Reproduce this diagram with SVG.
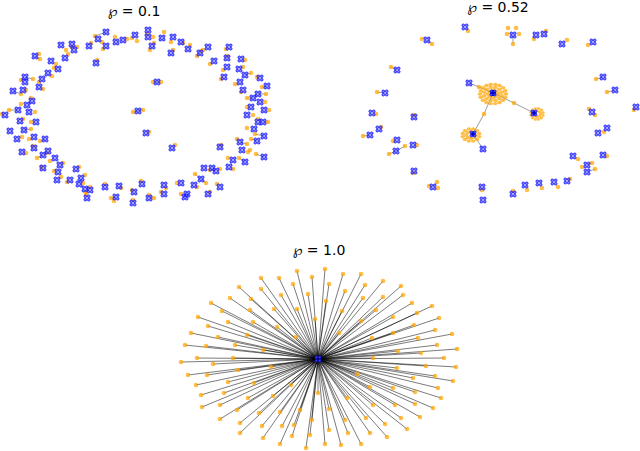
<svg xmlns="http://www.w3.org/2000/svg" xmlns:xlink="http://www.w3.org/1999/xlink" width="640" height="451" viewBox="0 0 640 451">
<style>
.t{font-family:"DejaVu Sans","Liberation Sans",sans-serif;font-size:14px;fill:#000;text-anchor:middle}
.o{fill:#ffa500;fill-opacity:.72}
.bm circle{fill:#5a5aff;stroke:#0000ff;stroke-width:.7;fill-opacity:.75}
.e{stroke:#333;stroke-opacity:.6;stroke-width:.8;fill:none}
.s{stroke:#000;stroke-opacity:.58;stroke-width:.9;fill:none}
.hc{fill:#00008b}
</style>
<defs>
<g id="bm" class="bm"><circle cx="-1.7" cy="-1.7" r="1.35"/><circle cx="1.7" cy="-1.7" r="1.35"/><circle cx="-1.7" cy="1.7" r="1.35"/><circle cx="1.7" cy="1.7" r="1.35"/></g>
<g id="r13" class="o"><circle cx="13" cy="0" r="2.3"/><circle cx="12.2" cy="4.4" r="2.3"/><circle cx="10" cy="8.4" r="2.3"/><circle cx="6.5" cy="11.3" r="2.3"/><circle cx="2.3" cy="12.8" r="2.3"/><circle cx="-2.3" cy="12.8" r="2.3"/><circle cx="-6.5" cy="11.3" r="2.3"/><circle cx="-10" cy="8.4" r="2.3"/><circle cx="-12.2" cy="4.4" r="2.3"/><circle cx="-13" cy="0" r="2.3"/><circle cx="-12.2" cy="-4.4" r="2.3"/><circle cx="-10" cy="-8.4" r="2.3"/><circle cx="-6.5" cy="-11.3" r="2.3"/><circle cx="-2.3" cy="-12.8" r="2.3"/><circle cx="2.3" cy="-12.8" r="2.3"/><circle cx="6.5" cy="-11.3" r="2.3"/><circle cx="10" cy="-8.4" r="2.3"/><circle cx="12.2" cy="-4.4" r="2.3"/></g>
<g id="r9" class="o"><circle cx="8.7" cy="2.3" r="2.3"/><circle cx="6.4" cy="6.4" r="2.3"/><circle cx="2.3" cy="8.7" r="2.3"/><circle cx="-2.3" cy="8.7" r="2.3"/><circle cx="-6.4" cy="6.4" r="2.3"/><circle cx="-8.7" cy="2.3" r="2.3"/><circle cx="-8.7" cy="-2.3" r="2.3"/><circle cx="-6.4" cy="-6.4" r="2.3"/><circle cx="-2.3" cy="-8.7" r="2.3"/><circle cx="2.3" cy="-8.7" r="2.3"/><circle cx="6.4" cy="-6.4" r="2.3"/><circle cx="8.7" cy="-2.3" r="2.3"/></g>
<g id="r5" class="o"><circle cx="5" cy="0" r="2.3"/><circle cx="3.5" cy="3.5" r="2.3"/><circle cx="0" cy="5" r="2.3"/><circle cx="-3.5" cy="3.5" r="2.3"/><circle cx="-5" cy="0" r="2.3"/><circle cx="-3.5" cy="-3.5" r="2.3"/><circle cx="0" cy="-5" r="2.3"/><circle cx="3.5" cy="-3.5" r="2.3"/></g>
</defs>
<rect width="640" height="451" fill="#fff"/>
<text class="t" x="134" y="16">℘ = 0.1</text>
<text class="t" x="498" y="12">℘ = 0.52</text>
<text class="t" x="319" y="255">℘ = 1.0</text>

<g id="connectors">
<g id="edges-left" class="e">
<path d="M106 32L95 36M25 77L33 79M18 110L9 110M13 91L21 94M43 155L37 158M200 53L197 56M258 94L266 94M253 98L247 98M263 122L268 122M264 136L255 134M257 141L251 139M240 142L247 144M264 157L256 154M201 179L195 174M201 179L206 183M245 162L239 158M35 56L40 59M138 111L133 112M138 111L143 110M157 82L161 82M157 82L153 82M24 130L31 129M45 139L40 141M245 75L251 73M267 86L262 87M116 197L111 198M149 198L154 198"/>
</g>
<g id="edges-mid" class="e">
<path d="M469 83L479 87L493 93M493 93L514 103L534 113M493 93L484 114L473 134M473 134L483 149M513 35L513 44M396 151L405 146M396 151L389 154M427 40L432 44M370 135L363 136M385 93L377 92M397 70L391 67M433 187L437 182M587 165L592 163M587 172L595 169M603 77L596 79M615 90L607 92"/>
</g>
<g id="edges-full" class="s">
<path d="M318 359L297 271M318 359L312 277M318 359L261 278M318 359L279 278M318 359L293 284M318 359L239 287M318 359L261 289M318 359L308 294M318 359L281 295M318 359L230 298M318 359L251 299M318 359L211 303M318 359L297 309M318 359L274 309M318 359L250 310M318 359L222 311M318 359L315 319M318 359L198 317M318 359L228 322M318 359L253 322M318 359L277 327M318 359L208 326M318 359L191 333M318 359L247 335M318 359L218 337M318 359L296 337M318 359L185 345M318 359L206 346M318 359L235 345M318 359L263 350M318 359L197 358M318 359L233 358M318 359L181 362M318 359L213 364M318 359L271 367M318 359L238 370M318 359L188 375M318 359L207 375M318 359L228 382M318 359L254 383M318 359L291 385M318 359L196 385M318 359L201 395M318 359L224 393M318 359L318 393M318 359L248 398M318 359L273 396M318 359L220 405M318 359L202 407M318 359L300 410M318 359L237 410M318 359L280 412M318 359L259 413M318 359L220 419M318 359L312 420M318 359L240 423M318 359L262 426M318 359L282 426M318 359L294 425M318 359L240 433M318 359L310 435M318 359L263 438M318 359L292 436M318 359L280 444M318 359L306 448"/>
<path d="M318 359L325 269M318 359L343 274M318 359L361 274M318 359L329 284M318 359L365 285M318 359L383 281M318 359L401 286M318 359L345 291M318 359L363 298M318 359L383 297M318 359L403 295M318 359L326 301M318 359L342 311M318 359L376 310M318 359L412 303M318 359L432 306M318 359L417 313M318 359L361 321M318 359L393 317M318 359L439 318M318 359L339 333M318 359L393 333M318 359L414 325M318 359L435 330M318 359L452 334M318 359L372 338M318 359L418 338M318 359L437 345M318 359L457 349M318 359L398 351M318 359L421 353M318 359L373 358M318 359L444 358M318 359L426 366M318 359L456 367M318 359L397 368M318 359L357 374M318 359L435 376M318 359L413 378M318 359L453 381M318 359L370 387M318 359L393 388M318 359L438 388M318 359L415 392M318 359L441 398M318 359L347 398M318 359L373 405M318 359L395 405M318 359L415 404M318 359L433 408M318 359L329 409M318 359L366 418M318 359L401 418M318 359L420 417M318 359L345 420M318 359L385 424M318 359L407 429M318 359L329 430M318 359L348 433M318 359L370 433M318 359L387 437M318 359L361 444M318 359L341 445M318 359L325 444"/>
</g>
</g>

<g id="graph-left">
<g id="L1"><circle class="o" cx="95" cy="36" r="2.3"/><use href="#bm" x="106" y="32"/></g>
<g id="L2"><circle class="o" cx="102" cy="42" r="2.3"/><use href="#bm" x="98" y="39"/></g>
<g id="L3"><circle class="o" cx="103" cy="49" r="2.3"/><use href="#bm" x="106" y="46"/></g>
<g id="L4"><circle class="o" cx="115" cy="37" r="2.3"/><use href="#bm" x="116" y="42"/></g>
<g id="L5"><circle class="o" cx="127" cy="39" r="2.3"/><use href="#bm" x="123" y="40"/></g>
<g id="L6"><circle class="o" cx="132" cy="38" r="2.3"/><circle class="o" cx="137" cy="41" r="2.3"/><use href="#bm" x="135" y="35"/></g>
<g id="L7"><circle class="o" cx="147" cy="34" r="2.3"/><circle class="o" cx="153" cy="37" r="2.3"/><use href="#bm" x="148" y="30"/><use href="#bm" x="148" y="37"/></g>
<g id="L8"><circle class="o" cx="154" cy="43" r="2.3"/><circle class="o" cx="150" cy="50" r="2.3"/><use href="#bm" x="152" y="46"/></g>
<g id="L9"><circle class="o" cx="153" cy="82" r="2.3"/><circle class="o" cx="161" cy="82" r="2.3"/><use href="#bm" x="157" y="82"/></g>
<g id="L10"><circle class="o" cx="66" cy="50" r="2.3"/><use href="#bm" x="61" y="45"/></g>
<g id="L11"><circle class="o" cx="72" cy="47" r="2.3"/><circle class="o" cx="77" cy="47" r="2.3"/><use href="#bm" x="72" y="44"/><use href="#bm" x="74" y="50"/></g>
<g id="L12"><circle class="o" cx="91" cy="43" r="2.3"/><use href="#bm" x="89" y="46"/></g>
<g id="L13"><circle class="o" cx="68" cy="54" r="2.3"/><use href="#bm" x="65" y="58"/></g>
<g id="L14"><circle class="o" cx="39" cy="54" r="2.3"/><circle class="o" cx="40" cy="59" r="2.3"/><use href="#bm" x="35" y="56"/></g>
<g id="L15"><circle class="o" cx="56" cy="64" r="2.3"/><use href="#bm" x="51" y="61"/></g>
<g id="L16"><circle class="o" cx="54" cy="68" r="2.3"/><use href="#bm" x="58" y="69"/></g>
<g id="L17"><circle class="o" cx="52" cy="76" r="2.3"/><use href="#bm" x="48" y="73"/></g>
<g id="L18"><circle class="o" cx="33" cy="79" r="2.3"/><circle class="o" cx="21" cy="80" r="2.3"/><use href="#bm" x="25" y="77"/><use href="#bm" x="25" y="82"/></g>
<g id="L19"><circle class="o" cx="39" cy="82" r="2.3"/><use href="#bm" x="42" y="79"/></g>
<g id="L20"><circle class="o" cx="97" cy="60" r="2.3"/><use href="#bm" x="96" y="63"/></g>
<g id="L21"><circle class="o" cx="43" cy="89" r="2.3"/><use href="#bm" x="39" y="87"/></g>
<g id="L22"><circle class="o" cx="21" cy="94" r="2.3"/><circle class="o" cx="26" cy="90" r="2.3"/><use href="#bm" x="13" y="91"/><use href="#bm" x="23" y="90"/></g>
<g id="L23"><circle class="o" cx="31" cy="98" r="2.3"/><use href="#bm" x="32" y="101"/></g>
<g id="L24"><circle class="o" cx="21" cy="104" r="2.3"/><use href="#bm" x="27" y="105"/></g>
<g id="L25"><circle class="o" cx="9" cy="110" r="2.3"/><use href="#bm" x="18" y="110"/></g>
<g id="L26"><circle class="o" cx="2" cy="114" r="2.3"/><use href="#bm" x="5" y="115"/></g>
<g id="L27"><circle class="o" cx="35" cy="112" r="2.3"/><use href="#bm" x="29" y="112"/></g>
<g id="L28"><circle class="o" cx="23" cy="119" r="2.3"/><use href="#bm" x="20" y="121"/></g>
<g id="L29"><circle class="o" cx="31" cy="122" r="2.3"/><use href="#bm" x="36" y="122"/></g>
<g id="L30"><use href="#bm" x="10" y="131"/></g>
<g id="L31"><circle class="o" cx="31" cy="129" r="2.3"/><use href="#bm" x="24" y="130"/></g>
<g id="L32"><circle class="o" cx="22" cy="137" r="2.3"/><use href="#bm" x="17" y="139"/></g>
<g id="L33"><circle class="o" cx="29" cy="139" r="2.3"/><use href="#bm" x="34" y="137"/></g>
<g id="L34"><circle class="o" cx="40" cy="141" r="2.3"/><use href="#bm" x="45" y="139"/></g>
<g id="L35"><circle class="o" cx="33" cy="146" r="2.3"/><use href="#bm" x="34" y="148"/></g>
<g id="L36"><circle class="o" cx="26" cy="153" r="2.3"/><use href="#bm" x="22" y="152"/></g>
<g id="L37"><circle class="o" cx="37" cy="158" r="2.3"/><circle class="o" cx="47" cy="153" r="2.3"/><use href="#bm" x="43" y="155"/><use href="#bm" x="48" y="151"/></g>
<g id="L38"><circle class="o" cx="50" cy="161" r="2.3"/><use href="#bm" x="55" y="158"/></g>
<g id="L39"><circle class="o" cx="63" cy="163" r="2.3"/><use href="#bm" x="60" y="165"/></g>
<g id="L40"><circle class="o" cx="41" cy="167" r="2.3"/><use href="#bm" x="43" y="168"/></g>
<g id="L41"><circle class="o" cx="54" cy="171" r="2.3"/><use href="#bm" x="58" y="172"/></g>
<g id="L42"><circle class="o" cx="79" cy="167" r="2.3"/><use href="#bm" x="76" y="169"/></g>
<g id="L43"><circle class="o" cx="61" cy="177" r="2.3"/><use href="#bm" x="57" y="180"/></g>
<g id="L44"><circle class="o" cx="67" cy="182" r="2.3"/><use href="#bm" x="70" y="180"/></g>
<g id="L45"><circle class="o" cx="85" cy="175" r="2.3"/><circle class="o" cx="83" cy="183" r="2.3"/><use href="#bm" x="81" y="178"/></g>
<g id="L46"><circle class="o" cx="90" cy="187" r="2.3"/><circle class="o" cx="86" cy="192" r="2.3"/><use href="#bm" x="79" y="184"/><use href="#bm" x="85" y="189"/><use href="#bm" x="90" y="190"/></g>
<g id="L47"><circle class="o" cx="86" cy="194" r="2.3"/><use href="#bm" x="87" y="198"/></g>
<g id="L48"><circle class="o" cx="105" cy="184" r="2.3"/><use href="#bm" x="105" y="187"/></g>
<g id="L49"><circle class="o" cx="121" cy="188" r="2.3"/><use href="#bm" x="119" y="186"/></g>
<g id="L50"><circle class="o" cx="111" cy="198" r="2.3"/><circle class="o" cx="114" cy="201" r="2.3"/><use href="#bm" x="116" y="197"/></g>
<g id="L51"><circle class="o" cx="132" cy="190" r="2.3"/><use href="#bm" x="134" y="192"/></g>
<g id="L52"><circle class="o" cx="141" cy="181" r="2.3"/><use href="#bm" x="142" y="184"/></g>
<g id="L53"><circle class="o" cx="133" cy="200" r="2.3"/><use href="#bm" x="133" y="203"/></g>
<g id="L54"><circle class="o" cx="149" cy="195" r="2.3"/><circle class="o" cx="154" cy="198" r="2.3"/><use href="#bm" x="149" y="198"/></g>
<g id="L55"><circle class="o" cx="133" cy="112" r="2.3"/><circle class="o" cx="143" cy="110" r="2.3"/><use href="#bm" x="138" y="111"/></g>
<g id="L56"><circle class="o" cx="149" cy="132" r="2.3"/><use href="#bm" x="146" y="133"/></g>
<g id="L57"><circle class="o" cx="164" cy="32" r="2.3"/><use href="#bm" x="162" y="38"/></g>
<g id="L58"><circle class="o" cx="171" cy="42" r="2.3"/><use href="#bm" x="173" y="37"/></g>
<g id="L59"><circle class="o" cx="183" cy="43" r="2.3"/><use href="#bm" x="181" y="42"/></g>
<g id="L60"><circle class="o" cx="190" cy="45" r="2.3"/><use href="#bm" x="188" y="49"/></g>
<g id="L61"><circle class="o" cx="173" cy="50" r="2.3"/><use href="#bm" x="171" y="53"/></g>
<g id="L62"><circle class="o" cx="201" cy="51" r="2.3"/><circle class="o" cx="197" cy="56" r="2.3"/><circle class="o" cx="203" cy="50" r="2.3"/><use href="#bm" x="200" y="53"/><use href="#bm" x="208" y="47"/></g>
<g id="L63"><circle class="o" cx="226" cy="49" r="2.3"/><use href="#bm" x="229" y="47"/></g>
<g id="L64"><circle class="o" cx="210" cy="64" r="2.3"/><use href="#bm" x="214" y="61"/></g>
<g id="L65"><circle class="o" cx="227" cy="56" r="2.3"/><use href="#bm" x="227" y="58"/></g>
<g id="L66"><circle class="o" cx="245" cy="60" r="2.3"/><use href="#bm" x="241" y="59"/></g>
<g id="L67"><circle class="o" cx="223" cy="70" r="2.3"/><use href="#bm" x="227" y="67"/></g>
<g id="L68"><circle class="o" cx="243" cy="67" r="2.3"/><use href="#bm" x="239" y="69"/></g>
<g id="L69"><circle class="o" cx="221" cy="79" r="2.3"/><use href="#bm" x="224" y="77"/></g>
<g id="L70"><circle class="o" cx="251" cy="73" r="2.3"/><use href="#bm" x="245" y="75"/></g>
<g id="L71"><circle class="o" cx="257" cy="77" r="2.3"/><use href="#bm" x="260" y="78"/></g>
<g id="L72"><circle class="o" cx="235" cy="84" r="2.3"/><use href="#bm" x="240" y="82"/></g>
<g id="L73"><circle class="o" cx="262" cy="87" r="2.3"/><use href="#bm" x="267" y="86"/></g>
<g id="L74"><circle class="o" cx="241" cy="92" r="2.3"/><use href="#bm" x="243" y="90"/></g>
<g id="L75"><circle class="o" cx="266" cy="94" r="2.3"/><circle class="o" cx="247" cy="98" r="2.3"/><use href="#bm" x="258" y="94"/><use href="#bm" x="253" y="98"/></g>
<g id="L76"><circle class="o" cx="265" cy="102" r="2.3"/><use href="#bm" x="260" y="102"/></g>
<g id="L77"><circle class="o" cx="247" cy="107" r="2.3"/><use href="#bm" x="251" y="107"/></g>
<g id="L78"><circle class="o" cx="269" cy="110" r="2.3"/><use href="#bm" x="264" y="110"/></g>
<g id="L79"><circle class="o" cx="253" cy="115" r="2.3"/><use href="#bm" x="247" y="115"/></g>
<g id="L80"><circle class="o" cx="258" cy="119" r="2.3"/><circle class="o" cx="268" cy="122" r="2.3"/><use href="#bm" x="258" y="122"/><use href="#bm" x="263" y="122"/></g>
<g id="L81"><circle class="o" cx="247" cy="128" r="2.3"/><use href="#bm" x="254" y="129"/></g>
<g id="L82"><circle class="o" cx="255" cy="134" r="2.3"/><use href="#bm" x="264" y="136"/></g>
<g id="L83"><circle class="o" cx="251" cy="139" r="2.3"/><use href="#bm" x="257" y="141"/></g>
<g id="L84"><circle class="o" cx="237" cy="139" r="2.3"/><circle class="o" cx="247" cy="144" r="2.3"/><use href="#bm" x="240" y="142"/></g>
<g id="L85"><circle class="o" cx="248" cy="152" r="2.3"/><circle class="o" cx="250" cy="150" r="2.3"/><use href="#bm" x="242" y="150"/></g>
<g id="L86"><circle class="o" cx="256" cy="154" r="2.3"/><use href="#bm" x="264" y="157"/></g>
<g id="L87"><circle class="o" cx="239" cy="158" r="2.3"/><use href="#bm" x="245" y="162"/></g>
<g id="L88"><circle class="o" cx="228" cy="158" r="2.3"/><use href="#bm" x="233" y="160"/></g>
<g id="L89"><circle class="o" cx="233" cy="169" r="2.3"/><use href="#bm" x="229" y="167"/></g>
<g id="L90"><circle class="o" cx="221" cy="145" r="2.3"/><use href="#bm" x="220" y="147"/></g>
<g id="L91"><circle class="o" cx="220" cy="169" r="2.3"/><circle class="o" cx="210" cy="170" r="2.3"/><use href="#bm" x="204" y="168"/><use href="#bm" x="212" y="168"/><use href="#bm" x="216" y="171"/></g>
<g id="L92"><circle class="o" cx="195" cy="174" r="2.3"/><circle class="o" cx="206" cy="183" r="2.3"/><use href="#bm" x="201" y="179"/></g>
<g id="L93"><circle class="o" cx="197" cy="187" r="2.3"/><use href="#bm" x="194" y="185"/></g>
<g id="L94"><circle class="o" cx="177" cy="183" r="2.3"/><use href="#bm" x="181" y="183"/></g>
<g id="L95"><circle class="o" cx="181" cy="194" r="2.3"/><use href="#bm" x="187" y="194"/><use href="#bm" x="185" y="197"/></g>
<g id="L96"><circle class="o" cx="166" cy="188" r="2.3"/><use href="#bm" x="164" y="185"/></g>
<g id="L97"><circle class="o" cx="161" cy="192" r="2.3"/><use href="#bm" x="164" y="194"/></g>
<g id="L98"><circle class="o" cx="210" cy="192" r="2.3"/><use href="#bm" x="208" y="194"/></g>
<g id="L99"><circle class="o" cx="217" cy="184" r="2.3"/><use href="#bm" x="220" y="187"/></g>
<g id="L101"><circle class="o" cx="175" cy="145" r="2.3"/><use href="#bm" x="172" y="148"/></g>
</g>

<g id="graph-mid">
<g id="R1"><circle class="o" cx="468" cy="31" r="2.3"/><use href="#bm" x="465" y="27"/></g>
<g id="R2"><circle class="o" cx="422" cy="39" r="2.3"/><circle class="o" cx="432" cy="44" r="2.3"/><use href="#bm" x="427" y="40"/></g>
<g id="R3"><circle class="o" cx="391" cy="67" r="2.3"/><use href="#bm" x="397" y="70"/></g>
<g id="R4"><circle class="o" cx="377" cy="92" r="2.3"/><use href="#bm" x="385" y="93"/></g>
<g id="R5"><circle class="o" cx="376" cy="114" r="2.3"/><use href="#bm" x="372" y="113"/></g>
<g id="R6"><circle class="o" cx="414" cy="115" r="2.3"/><use href="#bm" x="414" y="117"/></g>
<g id="R7"><circle class="o" cx="381" cy="127" r="2.3"/><use href="#bm" x="379" y="129"/></g>
<g id="R8"><circle class="o" cx="363" cy="136" r="2.3"/><use href="#bm" x="370" y="135"/></g>
<g id="R9"><circle class="o" cx="393" cy="141" r="2.3"/><use href="#bm" x="397" y="140"/></g>
<g id="R10"><circle class="o" cx="405" cy="146" r="2.3"/><circle class="o" cx="389" cy="154" r="2.3"/><use href="#bm" x="396" y="151"/></g>
<g id="R11"><circle class="o" cx="417" cy="145" r="2.3"/><use href="#bm" x="413" y="145"/></g>
<g id="R12"><circle class="o" cx="413" cy="173" r="2.3"/><use href="#bm" x="414" y="171"/></g>
<g id="R13"><circle class="o" cx="429" cy="186" r="2.3"/><circle class="o" cx="437" cy="182" r="2.3"/><circle class="o" cx="438" cy="188" r="2.3"/><use href="#bm" x="433" y="187"/></g>
<g id="R14"><circle class="o" cx="482" cy="190" r="2.3"/><use href="#bm" x="482" y="187"/></g>
<g id="R15"><use href="#bm" x="483" y="200"/></g>
<g id="R16"><circle class="o" cx="508" cy="28" r="2.3"/><circle class="o" cx="516" cy="28" r="2.3"/><circle class="o" cx="507" cy="34" r="2.3"/><circle class="o" cx="519" cy="34" r="2.3"/><circle class="o" cx="513" cy="44" r="2.3"/><use href="#bm" x="513" y="35"/></g>
<g id="R17"><circle class="o" cx="534" cy="39" r="2.3"/><use href="#bm" x="536" y="35"/></g>
<g id="R18"><circle class="o" cx="546" cy="31" r="2.3"/><use href="#bm" x="544" y="34"/></g>
<g id="R19"><circle class="o" cx="567" cy="40" r="2.3"/><use href="#bm" x="562" y="44"/></g>
<g id="R20"><circle class="o" cx="588" cy="45" r="2.3"/><use href="#bm" x="593" y="42"/></g>
<g id="R21"><circle class="o" cx="596" cy="79" r="2.3"/><use href="#bm" x="603" y="77"/></g>
<g id="R22"><circle class="o" cx="607" cy="92" r="2.3"/><use href="#bm" x="615" y="90"/></g>
<g id="R23"><circle class="o" cx="634" cy="110" r="2.3"/><use href="#bm" x="636" y="107"/></g>
<g id="R24"><circle class="o" cx="589" cy="109" r="2.3"/><circle class="o" cx="595" cy="115" r="2.3"/><use href="#bm" x="592" y="112"/></g>
<g id="R25"><circle class="o" cx="604" cy="132" r="2.3"/><use href="#bm" x="607" y="128"/><use href="#bm" x="598" y="133"/></g>
<g id="R26"><circle class="o" cx="607" cy="156" r="2.3"/><use href="#bm" x="603" y="155"/></g>
<g id="R27"><circle class="o" cx="578" cy="159" r="2.3"/><use href="#bm" x="573" y="156"/></g>
<g id="R28"><circle class="o" cx="582" cy="167" r="2.3"/><circle class="o" cx="592" cy="163" r="2.3"/><circle class="o" cx="595" cy="169" r="2.3"/><use href="#bm" x="587" y="165"/><use href="#bm" x="587" y="172"/></g>
<g id="R29"><circle class="o" cx="570" cy="179" r="2.3"/><use href="#bm" x="567" y="181"/></g>
<g id="R30"><circle class="o" cx="558" cy="187" r="2.3"/><use href="#bm" x="554" y="182"/></g>
<g id="R31"><circle class="o" cx="542" cy="188" r="2.3"/><use href="#bm" x="539" y="183"/></g>
<g id="R32"><circle class="o" cx="527" cy="190" r="2.3"/><use href="#bm" x="525" y="185"/></g>
<g id="R33"><circle class="o" cx="513" cy="191" r="2.3"/><use href="#bm" x="513" y="194"/></g>
<g id="H1"><use href="#r13" transform="translate(493 94) scale(1 .75)"/><use href="#r9" transform="translate(493 94) scale(1 .75)"/><use href="#r5" transform="translate(493 94) scale(1 .75)"/><circle class="o" cx="479" cy="87" r="2.3"/><circle class="o" cx="514" cy="103" r="2.3"/><circle class="o" cx="484" cy="114" r="2.3"/><circle class="hc" cx="493" cy="93" r="3"/><use href="#bm" x="493" y="93"/><use href="#bm" x="469" y="83"/></g>
<g id="H2"><use href="#r9" transform="translate(471 135) scale(.95 .7)"/><use href="#r5" transform="translate(471 135) scale(.95 .7)"/><circle class="hc" cx="473" cy="134" r="2.5"/><use href="#bm" x="473" y="134"/><use href="#bm" x="483" y="149"/></g>
<g id="H3"><use href="#r9" transform="translate(537 114) scale(.7 .62)"/><use href="#r5" transform="translate(537 114) scale(.7 .62)"/><circle class="hc" cx="534" cy="113" r="2.5"/><use href="#bm" x="534" y="113"/></g>
</g>

<g id="graph-full">
<g id="leaves" class="o">
<circle cx="297" cy="271" r="2.3"/><circle cx="312" cy="277" r="2.3"/><circle cx="261" cy="278" r="2.3"/><circle cx="279" cy="278" r="2.3"/><circle cx="293" cy="284" r="2.3"/><circle cx="239" cy="287" r="2.3"/><circle cx="261" cy="289" r="2.3"/><circle cx="308" cy="294" r="2.3"/><circle cx="281" cy="295" r="2.3"/><circle cx="230" cy="298" r="2.3"/><circle cx="251" cy="299" r="2.3"/><circle cx="211" cy="303" r="2.3"/><circle cx="297" cy="309" r="2.3"/><circle cx="274" cy="309" r="2.3"/><circle cx="250" cy="310" r="2.3"/><circle cx="222" cy="311" r="2.3"/><circle cx="315" cy="319" r="2.3"/><circle cx="198" cy="317" r="2.3"/><circle cx="228" cy="322" r="2.3"/><circle cx="253" cy="322" r="2.3"/><circle cx="277" cy="327" r="2.3"/><circle cx="208" cy="326" r="2.3"/><circle cx="191" cy="333" r="2.3"/><circle cx="247" cy="335" r="2.3"/><circle cx="218" cy="337" r="2.3"/><circle cx="296" cy="337" r="2.3"/><circle cx="185" cy="345" r="2.3"/><circle cx="206" cy="346" r="2.3"/><circle cx="235" cy="345" r="2.3"/><circle cx="263" cy="350" r="2.3"/><circle cx="197" cy="358" r="2.3"/><circle cx="233" cy="358" r="2.3"/><circle cx="181" cy="362" r="2.3"/><circle cx="213" cy="364" r="2.3"/><circle cx="271" cy="367" r="2.3"/><circle cx="238" cy="370" r="2.3"/><circle cx="188" cy="375" r="2.3"/><circle cx="207" cy="375" r="2.3"/><circle cx="228" cy="382" r="2.3"/><circle cx="254" cy="383" r="2.3"/><circle cx="291" cy="385" r="2.3"/><circle cx="196" cy="385" r="2.3"/><circle cx="201" cy="395" r="2.3"/><circle cx="224" cy="393" r="2.3"/><circle cx="318" cy="393" r="2.3"/><circle cx="248" cy="398" r="2.3"/><circle cx="273" cy="396" r="2.3"/><circle cx="220" cy="405" r="2.3"/><circle cx="202" cy="407" r="2.3"/><circle cx="300" cy="410" r="2.3"/><circle cx="237" cy="410" r="2.3"/><circle cx="280" cy="412" r="2.3"/><circle cx="259" cy="413" r="2.3"/><circle cx="220" cy="419" r="2.3"/><circle cx="312" cy="420" r="2.3"/><circle cx="240" cy="423" r="2.3"/><circle cx="262" cy="426" r="2.3"/><circle cx="282" cy="426" r="2.3"/><circle cx="294" cy="425" r="2.3"/><circle cx="240" cy="433" r="2.3"/><circle cx="310" cy="435" r="2.3"/><circle cx="263" cy="438" r="2.3"/><circle cx="292" cy="436" r="2.3"/><circle cx="280" cy="444" r="2.3"/><circle cx="306" cy="448" r="2.3"/>
<circle cx="325" cy="269" r="2.3"/><circle cx="343" cy="274" r="2.3"/><circle cx="361" cy="274" r="2.3"/><circle cx="329" cy="284" r="2.3"/><circle cx="365" cy="285" r="2.3"/><circle cx="383" cy="281" r="2.3"/><circle cx="401" cy="286" r="2.3"/><circle cx="345" cy="291" r="2.3"/><circle cx="363" cy="298" r="2.3"/><circle cx="383" cy="297" r="2.3"/><circle cx="403" cy="295" r="2.3"/><circle cx="326" cy="301" r="2.3"/><circle cx="342" cy="311" r="2.3"/><circle cx="376" cy="310" r="2.3"/><circle cx="412" cy="303" r="2.3"/><circle cx="432" cy="306" r="2.3"/><circle cx="417" cy="313" r="2.3"/><circle cx="361" cy="321" r="2.3"/><circle cx="393" cy="317" r="2.3"/><circle cx="439" cy="318" r="2.3"/><circle cx="339" cy="333" r="2.3"/><circle cx="393" cy="333" r="2.3"/><circle cx="414" cy="325" r="2.3"/><circle cx="435" cy="330" r="2.3"/><circle cx="452" cy="334" r="2.3"/><circle cx="372" cy="338" r="2.3"/><circle cx="418" cy="338" r="2.3"/><circle cx="437" cy="345" r="2.3"/><circle cx="457" cy="349" r="2.3"/><circle cx="398" cy="351" r="2.3"/><circle cx="421" cy="353" r="2.3"/><circle cx="373" cy="358" r="2.3"/><circle cx="444" cy="358" r="2.3"/><circle cx="426" cy="366" r="2.3"/><circle cx="456" cy="367" r="2.3"/><circle cx="397" cy="368" r="2.3"/><circle cx="357" cy="374" r="2.3"/><circle cx="435" cy="376" r="2.3"/><circle cx="413" cy="378" r="2.3"/><circle cx="453" cy="381" r="2.3"/><circle cx="370" cy="387" r="2.3"/><circle cx="393" cy="388" r="2.3"/><circle cx="438" cy="388" r="2.3"/><circle cx="415" cy="392" r="2.3"/><circle cx="441" cy="398" r="2.3"/><circle cx="347" cy="398" r="2.3"/><circle cx="373" cy="405" r="2.3"/><circle cx="395" cy="405" r="2.3"/><circle cx="415" cy="404" r="2.3"/><circle cx="433" cy="408" r="2.3"/><circle cx="329" cy="409" r="2.3"/><circle cx="366" cy="418" r="2.3"/><circle cx="401" cy="418" r="2.3"/><circle cx="420" cy="417" r="2.3"/><circle cx="345" cy="420" r="2.3"/><circle cx="385" cy="424" r="2.3"/><circle cx="407" cy="429" r="2.3"/><circle cx="329" cy="430" r="2.3"/><circle cx="348" cy="433" r="2.3"/><circle cx="370" cy="433" r="2.3"/><circle cx="387" cy="437" r="2.3"/><circle cx="361" cy="444" r="2.3"/><circle cx="341" cy="445" r="2.3"/><circle cx="325" cy="444" r="2.3"/>
</g>
<g id="hub"><use href="#bm" x="318" y="359"/></g>
</g>
</svg>
